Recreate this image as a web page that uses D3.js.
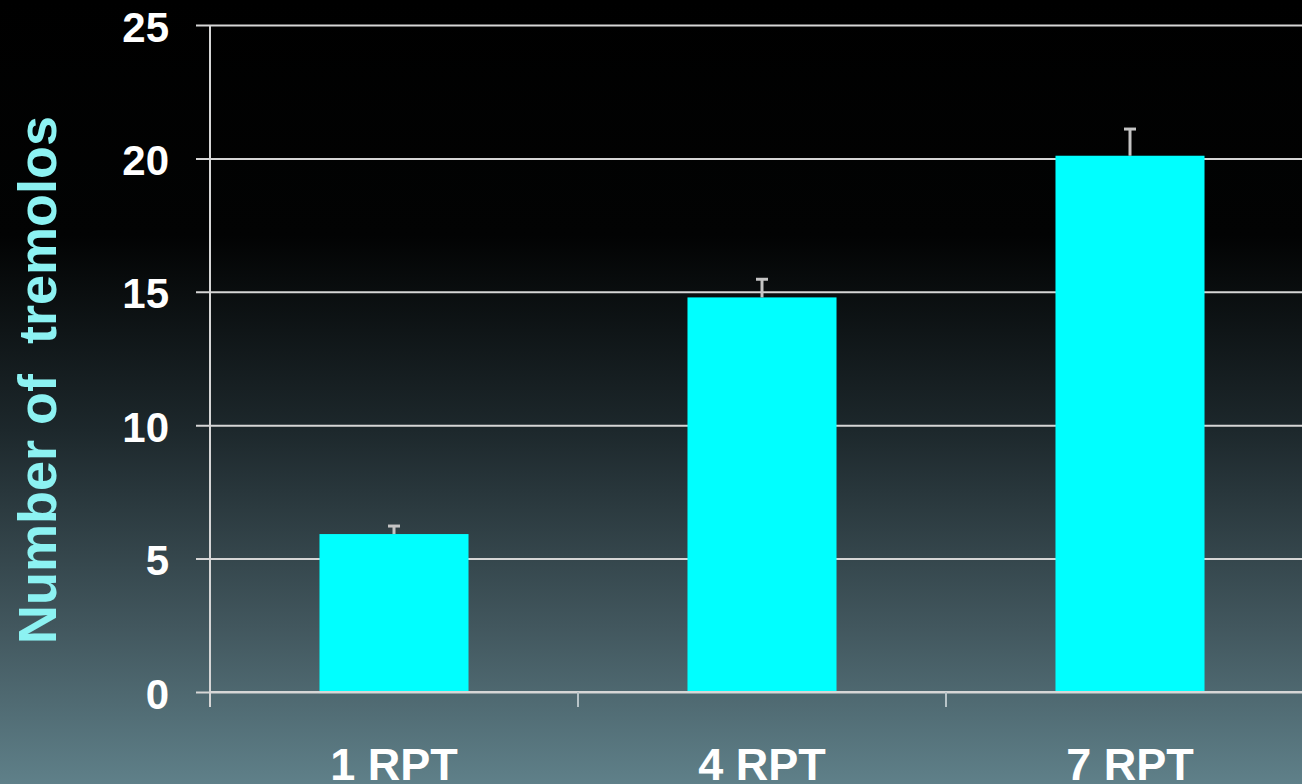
<!DOCTYPE html>
<html>
<head>
<meta charset="utf-8">
<script src="https://cdn.jsdelivr.net/npm/d3@7"></script>
<style>
  html, body { margin: 0; padding: 0; background: #000; }
  svg { display: block; }
</style>
</head>
<body>
<svg id="chart" width="1302" height="784"></svg>
<script>
// Tremolo counts by repetition group
const categories = ["1 RPT", "4 RPT", "7 RPT"];
const meanValues = [5.92, 14.79, 20.1];
const errorValues = [0.3, 0.68, 1.0];
const yTicks = [0, 5, 10, 15, 20, 25];
const yTitle = "Number of  tremolos";

const W = 1302, H = 784;
const plotLeft = 210, plotTop = 25, plotBottom = 692, plotRight = 1314;

const svg = d3.select("#chart");

// Background: black top fading into slate teal at the bottom
const defs = svg.append("defs");
const grad = defs.append("linearGradient")
  .attr("id", "bg").attr("x1", 0).attr("y1", 0).attr("x2", 0).attr("y2", 1);
grad.append("stop").attr("offset", "0%").attr("stop-color", "#000000");
grad.append("stop").attr("offset", "30%").attr("stop-color", "#020303");
grad.append("stop").attr("offset", "55%").attr("stop-color", "#1d282c");
grad.append("stop").attr("offset", "80%").attr("stop-color", "#42575e");
grad.append("stop").attr("offset", "100%").attr("stop-color", "#5f8089");
svg.append("rect").attr("width", W).attr("height", H).attr("fill", "url(#bg)");

// Scales
const y = d3.scaleLinear().domain([0, 25]).range([plotBottom, plotTop]);
const xCat = d3.scaleBand().domain(categories).range([plotLeft, plotRight]).padding(0);
const xBar = d3.scaleBand().domain(categories).range([plotLeft, plotRight])
  .paddingInner(0.595).paddingOuter(0.2975);

const gridColor = "#d6d6d6";
const font = "'Liberation Sans', Arial, sans-serif";

// Horizontal gridlines with small outward ticks
const yAxis = d3.axisLeft(y).tickValues(yTicks).tickSize(-(W - plotLeft + 20)).tickFormat("");
const gy = svg.append("g").attr("transform", `translate(${plotLeft},0)`).call(yAxis);
gy.select(".domain").remove();
gy.selectAll(".tick line")
  .attr("x1", -14)
  .attr("stroke", gridColor).attr("stroke-width", 2);

// Bars
svg.append("g").selectAll("rect")
  .data(categories)
  .join("rect")
  .attr("x", d => xBar(d))
  .attr("y", (d, i) => y(meanValues[i]))
  .attr("width", xBar.bandwidth())
  .attr("height", (d, i) => y(0) - y(meanValues[i]))
  .attr("fill", "#00ffff");

// Upper error whiskers
const eb = svg.append("g").attr("stroke", "#c4c4c4").attr("stroke-width", 3);
categories.forEach((c, i) => {
  const cx = xBar(c) + xBar.bandwidth() / 2;
  eb.append("line")
    .attr("x1", cx).attr("x2", cx)
    .attr("y1", y(meanValues[i])).attr("y2", y(meanValues[i] + errorValues[i]));
  eb.append("line")
    .attr("x1", cx - 6).attr("x2", cx + 6)
    .attr("y1", y(meanValues[i] + errorValues[i])).attr("y2", y(meanValues[i] + errorValues[i]));
});

// Baseline and vertical axis
svg.append("line")
  .attr("x1", plotLeft).attr("x2", W + 10)
  .attr("y1", y(0)).attr("y2", y(0))
  .attr("stroke", gridColor).attr("stroke-width", 2);
svg.append("line")
  .attr("x1", plotLeft).attr("x2", plotLeft)
  .attr("y1", y(25)).attr("y2", y(0) + 15)
  .attr("stroke", gridColor).attr("stroke-width", 2);

// Category boundary ticks below the baseline
const bounds = categories.map(c => xCat(c)).slice(1);
svg.append("g").selectAll("line")
  .data(bounds)
  .join("line")
  .attr("x1", d => d).attr("x2", d => d)
  .attr("y1", y(0)).attr("y2", y(0) + 15)
  .attr("stroke", "#b8c4c8").attr("stroke-width", 2);

// Y tick labels
svg.append("g").selectAll("text")
  .data(yTicks)
  .join("text")
  .attr("x", 169)
  .attr("y", d => y(d) + 2)
  .attr("text-anchor", "end")
  .attr("dominant-baseline", "central")
  .attr("font-family", font)
  .attr("font-weight", "bold")
  .attr("font-size", 42)
  .attr("fill", "#ffffff")
  .text(d => d);

// Category labels
svg.append("g").selectAll("text")
  .data(categories)
  .join("text")
  .attr("x", d => xCat(d) + xCat.bandwidth() / 2)
  .attr("y", 780)
  .attr("text-anchor", "middle")
  .attr("font-family", font)
  .attr("font-weight", "bold")
  .attr("font-size", 45)
  .attr("fill", "#ffffff")
  .text(d => d);

// Y axis title
svg.append("text")
  .attr("transform", "translate(56,380) rotate(-90)")
  .attr("text-anchor", "middle")
  .attr("font-family", font)
  .attr("font-weight", "bold")
  .attr("font-size", 54)
  .attr("fill", "#8cf2f2")
  .style("white-space", "pre")
  .text(yTitle);
</script>
</body>
</html>
